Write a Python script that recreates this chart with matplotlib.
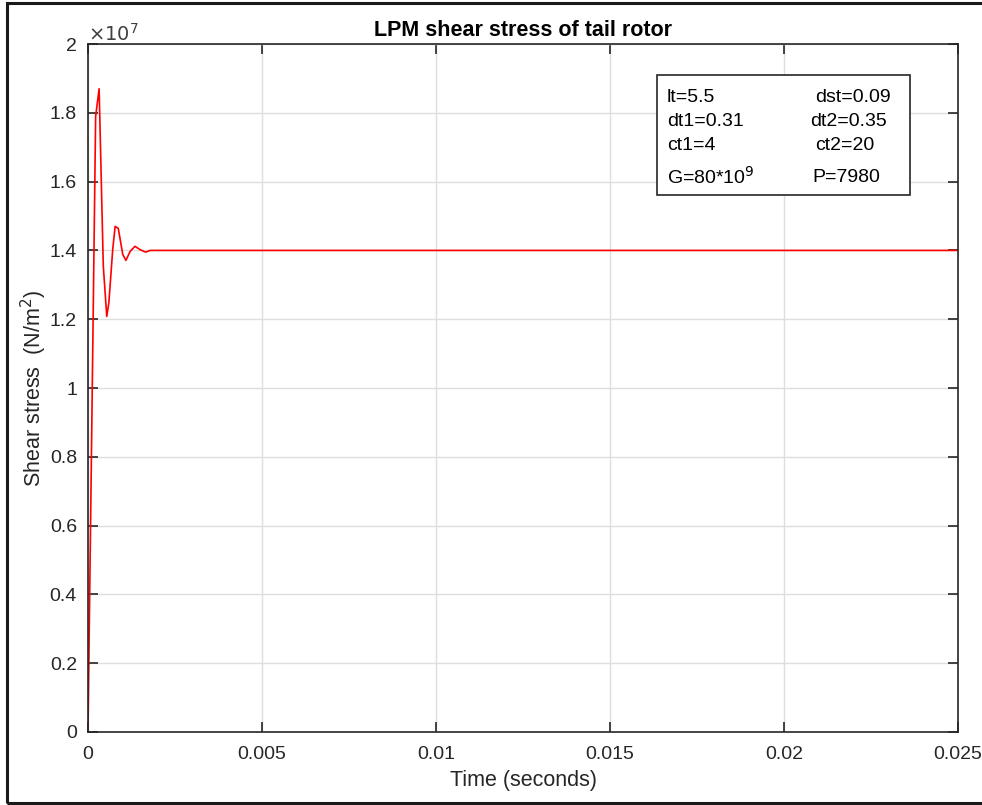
#!/usr/bin/env python3

import matplotlib
matplotlib.use("Agg")
import matplotlib.pyplot as plt
from matplotlib.patches import Rectangle

# transient of the shear stress (time in s, stress in N/m^2)
t = [0.0, 2.2e-4, 3.2e-4, 4.4e-4, 5.4e-4, 6.0e-4, 7.1e-4, 7.8e-4, 8.7e-4,
     1.00e-3, 1.09e-3, 1.21e-3, 1.35e-3, 1.50e-3, 1.66e-3, 1.78e-3, 0.025]
stress = [0.0, 1.79e7, 1.87e7, 1.354e7, 1.208e7, 1.248e7, 1.402e7, 1.47e7,
          1.464e7, 1.388e7, 1.371e7, 1.397e7, 1.412e7, 1.402e7, 1.395e7,
          1.400e7, 1.400e7]

xticks = [0, 0.005, 0.01, 0.015, 0.02, 0.025]
xticklabels = ["0", "0.005", "0.01", "0.015", "0.02", "0.025"]
yticks = [0, 0.2, 0.4, 0.6, 0.8, 1.0, 1.2, 1.4, 1.6, 1.8, 2.0]
yticklabels = ["0", "0.2", "0.4", "0.6", "0.8", "1", "1.2", "1.4", "1.6", "1.8", "2"]

params_left = ["lt=5.5", "dt1=0.31", "ct1=4", "G=80*10$^9$"]
params_right = ["dst=0.09", "dt2=0.35", "ct2=20", "P=7980"]

plt.rcParams['font.family'] = ['Liberation Sans', 'DejaVu Sans']

fig = plt.figure(figsize=(9.82, 8.05), dpi=100)
ax = fig.add_axes([0.0896, 0.0907, 0.886, 0.8546])

ax.plot(t, [s / 1e7 for s in stress], color='#ff0000', lw=1.2)

ax.set_xlim(0, 0.025)
ax.set_ylim(0, 2)
ax.set_xticks(xticks)
ax.set_xticklabels(xticklabels)
ax.set_yticks(yticks)
ax.set_yticklabels(yticklabels)
ax.tick_params(direction='in', length=7, width=1.2, top=True, right=True,
               labelsize=14, colors='#262626')
ax.tick_params(axis='x', pad=10)
ax.tick_params(axis='y', pad=8)
ax.grid(True, color='#dedede', lw=1.0)
for sp in ax.spines.values():
    sp.set_color('#262626')
    sp.set_linewidth(1.2)

ax.text(0.0, 0.999, r'$\times10^{7}$', transform=ax.transAxes, fontsize=14,
        color='#404040', va='bottom', ha='left')

ax.set_title("LPM shear stress of tail rotor", fontsize=15.5, fontweight='bold', pad=6)
ax.set_xlabel("Time (seconds)", fontsize=15.5, color='#262626', labelpad=5)
ax.set_ylabel("Shear stress  (N/m$^2$)", fontsize=15.5, color='#262626')
ax.yaxis.set_label_coords(-0.045, 0.5)

# parameter box
bx0, bx1 = (657 - 88) / 870, (910 - 88) / 870
by0, by1 = (732 - 195) / 688, (732 - 75) / 688
ax.add_patch(Rectangle((bx0, by0), bx1 - bx0, by1 - by0, transform=ax.transAxes,
                       fill=True, facecolor='white', edgecolor='#262626', lw=1.2,
                       zorder=5))
ys = [97, 121, 145, 177]
xr = [815, 810, 815, 812]
for i in range(4):
    yy = (732 - ys[i]) / 688
    ax.text((667 - 88) / 870, yy, params_left[i], transform=ax.transAxes,
            fontsize=14, va='center', ha='left', zorder=6)
    ax.text((xr[i] - 88) / 870, yy, params_right[i], transform=ax.transAxes,
            fontsize=14, va='center', ha='left', zorder=6)

# outer frame
fig.add_artist(Rectangle((7 / 982, 2 / 805), 1.0, 800 / 805, transform=fig.transFigure,
                         fill=False, edgecolor='#1a1a1a', lw=2.2))

fig.savefig("out.png", dpi=100)
